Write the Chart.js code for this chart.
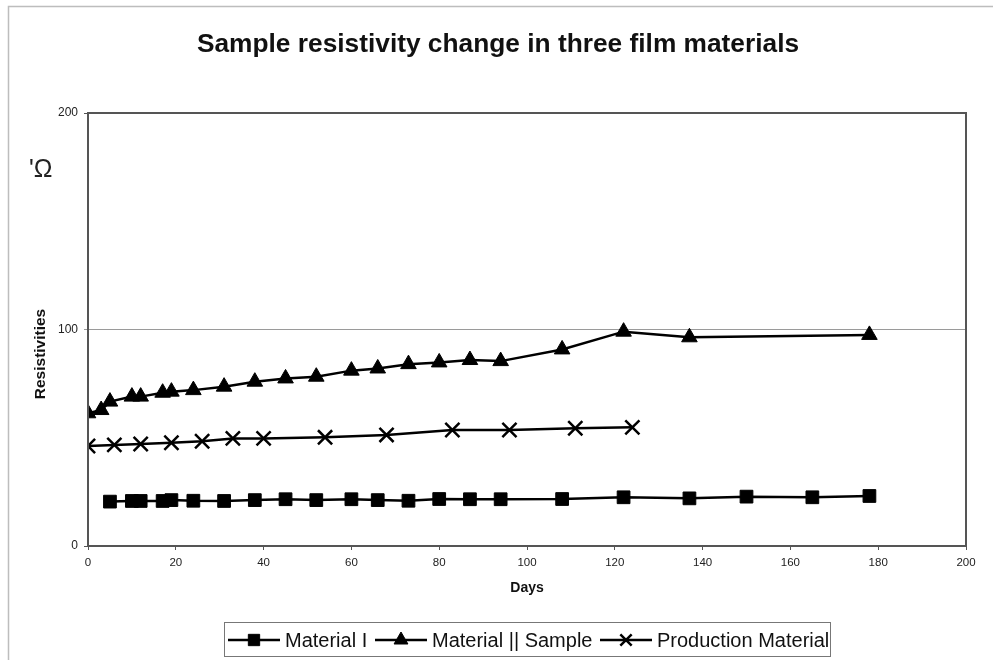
<!DOCTYPE html>
<html>
<head>
<meta charset="utf-8">
<style>
  html, body { margin: 0; padding: 0; background: #fff; }
  #wrap { width: 993px; height: 660px; position: relative; }
</style>
<script src="https://cdn.jsdelivr.net/npm/chart.js@4.4.1/dist/chart.umd.min.js"></script>
</head>
<body>
<div id="wrap"><canvas id="c" width="993" height="660"></canvas></div>
<script>
const chartTitle = "Sample resistivity change in three film materials";
const xAxisTitle = "Days";
const yAxisTitle = "Resistivities";
const unitLabel = "'Ω";
const xTicks = [0, 20, 40, 60, 80, 100, 120, 140, 160, 180, 200];
const yTicks = [0, 100, 200];

const seriesNames = ["Material I", "Material || Sample", "Production Material"];

const materialIDays = [5, 10, 12, 17, 19, 24, 31, 38, 45, 52, 60, 66, 73, 80, 87, 94, 108, 122, 137, 150, 165, 178];
const materialIValues = [20.5, 20.8, 20.8, 20.8, 21.2, 20.9, 20.8, 21.2, 21.6, 21.2, 21.6, 21.2, 20.9, 21.7, 21.6, 21.6, 21.7, 22.5, 22.0, 22.8, 22.5, 23.1];

const materialIIDays = [0, 3, 5, 10, 12, 17, 19, 24, 31, 38, 45, 52, 60, 66, 73, 80, 87, 94, 108, 122, 137, 178];
const materialIIValues = [61.3, 62.8, 66.7, 69.0, 69.0, 70.8, 71.3, 72.0, 73.6, 75.9, 77.4, 78.2, 81.0, 82.0, 84.0, 84.8, 85.9, 85.4, 90.8, 99.0, 96.4, 97.5];

const productionDays = [0, 6, 12, 19, 26, 33, 40, 54, 68, 83, 96, 111, 124];
const productionValues = [46.2, 46.7, 47.1, 47.7, 48.4, 49.7, 49.7, 50.2, 51.3, 53.6, 53.6, 54.4, 54.8];

function pts(xs, ys) { return xs.map((x, i) => ({ x: x, y: ys[i] })); }

const styles = [
  { pointStyle: 'rect', pointRadius: 9, borderWidth: 2.5 },
  { pointStyle: 'triangle', pointRadius: 9, borderWidth: 2.5 },
  { pointStyle: 'crossRot', pointRadius: 10, borderWidth: 2.5 }
];

const datasets = [
  pts(materialIDays, materialIValues),
  pts(materialIIDays, materialIIValues),
  pts(productionDays, productionValues)
].map((d, i) => ({
  label: seriesNames[i],
  data: d,
  borderColor: '#000',
  backgroundColor: '#000',
  pointBackgroundColor: '#000',
  pointBorderColor: '#000',
  pointBorderWidth: i === 2 ? 2.5 : 1,
  borderWidth: styles[i].borderWidth,
  pointStyle: styles[i].pointStyle,
  pointRadius: styles[i].pointRadius,
  pointHoverRadius: styles[i].pointRadius,
  tension: 0,
  fill: false
}));

const decor = {
  id: 'decor',
  beforeDraw(chart) {
    const ctx = chart.ctx;
    ctx.save();
    ctx.fillStyle = '#fff';
    ctx.fillRect(0, 0, chart.width, chart.height);
    ctx.strokeStyle = '#bdbdbd';
    ctx.lineWidth = 1.5;
    ctx.beginPath();
    ctx.moveTo(8.5, 660);
    ctx.lineTo(8.5, 6.5);
    ctx.lineTo(993, 6.5);
    ctx.stroke();
    ctx.restore();
  },
  afterDraw(chart) {
    const ctx = chart.ctx;
    const a = chart.chartArea;
    ctx.save();
    // plot border
    ctx.strokeStyle = '#555';
    ctx.lineWidth = 2;
    ctx.strokeRect(a.left, a.top, a.right - a.left, a.bottom - a.top);

    // title
    ctx.fillStyle = '#111';
    ctx.textAlign = 'center';
    ctx.textBaseline = 'middle';
    ctx.font = 'bold 26.3px "Liberation Sans", Arial, sans-serif';
    ctx.fillText(chartTitle, 498, 45);

    // x axis title
    ctx.font = 'bold 14px "Liberation Sans", Arial, sans-serif';
    ctx.fillText(xAxisTitle, (a.left + a.right) / 2, 588);

    // y axis title
    ctx.save();
    ctx.translate(41, 354);
    ctx.rotate(-Math.PI / 2);
    ctx.font = 'bold 15.5px "Liberation Sans", Arial, sans-serif';
    ctx.fillText(yAxisTitle, 0, 0);
    ctx.restore();

    // unit label
    ctx.textAlign = 'left';
    ctx.textBaseline = 'alphabetic';
    ctx.font = '25px "Liberation Sans", Arial, sans-serif';
    ctx.fillStyle = '#222';
    ctx.fillText(unitLabel, 29, 177);

    // legend
    const lx = 224, ly = 622, lw = 606, lh = 34;
    ctx.strokeStyle = '#777';
    ctx.lineWidth = 1;
    ctx.strokeRect(lx + 0.5, ly + 0.5, lw, lh);
    const cy = ly + lh / 2 + 1;
    const starts = [228, 375, 600];
    ctx.font = '20px "Liberation Sans", Arial, sans-serif';
    ctx.textBaseline = 'middle';
    chart.data.datasets.forEach((ds, i) => {
      const sx = starts[i];
      ctx.strokeStyle = '#000';
      ctx.lineWidth = 2.5;
      ctx.beginPath();
      ctx.moveTo(sx, cy);
      ctx.lineTo(sx + 52, cy);
      ctx.stroke();
      ctx.fillStyle = '#000';
      ctx.lineWidth = ds.pointBorderWidth;
      const r = i === 2 ? 8 : 8;
      Chart.helpers.drawPoint(ctx, { pointStyle: ds.pointStyle, radius: r, rotation: 0, borderWidth: ds.pointBorderWidth }, sx + 26, cy);
      ctx.fillStyle = '#111';
      ctx.fillText(ds.label, sx + 57, cy + 1);
    });
    ctx.restore();
  }
};

new Chart(document.getElementById('c'), {
  type: 'line',
  data: { datasets: datasets },
  options: {
    responsive: false,
    animation: false,
    devicePixelRatio: 1,
    layout: { padding: { left: 0, top: 113, right: 27, bottom: 0 } },
    plugins: {
      legend: { display: false },
      title: { display: false },
      tooltip: { enabled: false }
    },
    scales: {
      x: {
        type: 'linear',
        min: 0, max: 200,
        afterFit(scale) { scale.height = 114; },
        afterBuildTicks(scale) { scale.ticks = xTicks.map(v => ({ value: v })); },
        grid: { display: true, drawOnChartArea: false, drawTicks: true, tickLength: 4, color: '#555' },
        border: { display: false },
        ticks: {
          padding: 6,
          maxRotation: 0,
          color: '#222',
          font: { family: '"Liberation Sans", Arial, sans-serif', size: 11.5 }
        }
      },
      y: {
        type: 'linear',
        min: 0, max: 200,
        afterFit(scale) { scale.width = 88; },
        afterBuildTicks(scale) { scale.ticks = yTicks.map(v => ({ value: v })); },
        grid: {
          display: true,
          drawTicks: true,
          tickLength: 4,
          color: (c) => (c.tick && c.tick.value === 100) ? '#9a9a9a' : '#555',
          lineWidth: 1
        },
        border: { display: false },
        ticks: {
          padding: 6,
          color: '#222',
          font: { family: '"Liberation Sans", Arial, sans-serif', size: 12 }
        }
      }
    }
  },
  plugins: [decor]
});
</script>
</body>
</html>
